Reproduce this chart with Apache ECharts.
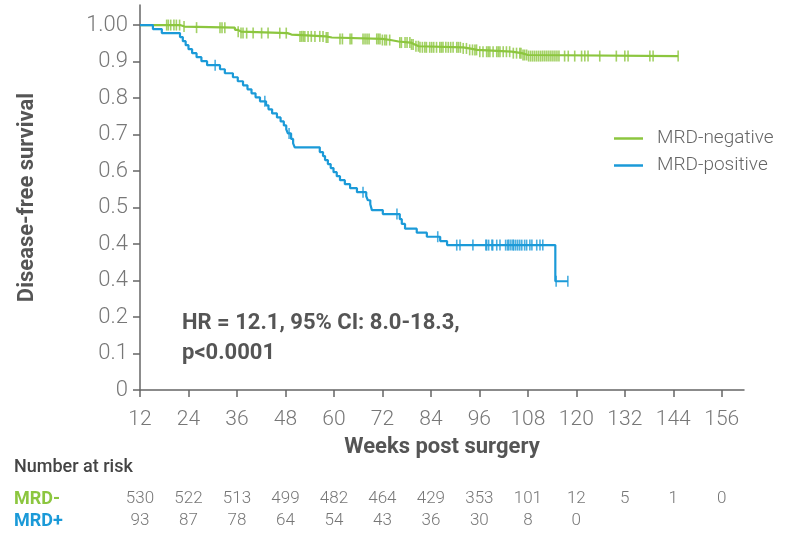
<!DOCTYPE html>
<html>
<head>
<meta charset="utf-8">
<script src="https://cdn.jsdelivr.net/npm/echarts@6/dist/echarts.min.js"></script>
<style>
  html, body { margin: 0; padding: 0; background: #fff; }
  #kmChart { width: 792px; height: 537px; }
</style>
</head>
<body>
<div id="kmChart"></div>
<script>
// x ticks (weeks) and y tick labels as printed
var weekTicks = [12, 24, 36, 48, 60, 72, 84, 96, 108, 120, 132, 144, 156];
var survTicks = [0, 0.1, 0.2, 0.3, 0.4, 0.5, 0.6, 0.7, 0.8, 0.9, 1.0];
var survTickLabels = ['0', '0.1', '0.2', '0.4', '0.4', '0.5', '0.6', '0.7', '0.8', '0.9', '1.00'];

// KM steps [week, survival after event]
var negSteps = [
  [12, 1.0], [21.9, 0.996], [23, 0.993], [35.5, 0.987], [36.2, 0.982], [37, 0.978],
  [48.5, 0.974], [49.5, 0.969], [58, 0.966], [59.5, 0.962], [72, 0.959], [74, 0.955],
  [76, 0.952], [79, 0.947], [80, 0.942], [81, 0.939], [92, 0.936], [93.5, 0.932],
  [95.5, 0.927], [104, 0.923], [106.5, 0.918], [108, 0.915], [145.2, 0.915]
];
var posSteps = [
  [12, 1.0], [15.2, 0.989], [17.4, 0.978], [21.9, 0.967], [22.6, 0.956], [23.3, 0.945],
  [24.0, 0.934], [24.9, 0.923], [26.0, 0.912], [27.2, 0.901], [28.6, 0.890],
  [31.8, 0.879], [33.0, 0.868], [35.0, 0.857], [36.2, 0.846], [37.5, 0.835],
  [38.6, 0.824], [39.6, 0.813], [40.6, 0.802], [41.7, 0.791], [43.2, 0.780],
  [43.8, 0.769], [44.7, 0.758], [45.9, 0.747], [46.8, 0.736], [47.6, 0.725],
  [48.2, 0.714], [48.6, 0.703], [49.4, 0.688], [49.9, 0.676], [50.3, 0.665],
  [56.5, 0.652], [57.3, 0.641], [57.8, 0.630], [58.5, 0.619], [59.2, 0.608],
  [59.9, 0.597], [60.7, 0.586], [61.5, 0.575], [62.7, 0.564], [64.0, 0.553],
  [65.7, 0.542], [68.0, 0.531], [68.4, 0.520], [69.0, 0.509], [69.4, 0.493],
  [72.1, 0.482], [76.3, 0.468], [76.8, 0.455], [77.6, 0.442], [80.5, 0.431],
  [83.0, 0.420], [86.3, 0.408], [88.0, 0.397], [114.8, 0.298], [117.9, 0.298]
];

// censoring times (weeks)
var negCensor = [
  18.6, 19.0, 19.6, 20.4, 21.0, 21.8, 22.9, 26.0, 31.8, 32.3, 33.0, 36.3, 37.0, 37.5, 38.4,
  40.0, 42.1, 43.7, 46.6, 48.2, 51.6, 52.0, 52.4, 52.8, 53.6, 54.4, 55.3, 56.5, 57.3, 58.1,
  58.5, 61.5, 62.1, 64.0, 64.4, 67.2, 67.7, 68.2, 68.7, 70.6, 71.0, 71.4, 72.0, 72.6, 73.0,
  73.8, 76.3, 76.7, 77.6, 78.1, 78.8, 79.2, 79.6, 80.3, 80.9, 81.3, 81.9, 82.5, 82.9, 83.7,
  84.2, 84.7, 85.4, 86.2, 86.6, 87.0, 87.7, 88.3, 88.9, 89.5, 90.4, 90.8, 91.3, 92.0, 92.8,
  93.6, 94.3, 94.9, 95.3, 96.1, 96.9, 97.8, 98.2, 98.6, 99.4, 100.3, 100.7, 101.1, 101.9,
  102.7, 103.5, 104.4, 105.2, 106.0, 106.3, 106.8, 107.2, 107.7, 108.2, 108.7, 109.2, 109.7,
  110.2, 110.7, 111.2, 111.7, 112.2, 112.7, 113.2, 113.7, 114.2, 114.7, 115.2, 115.7, 117.1,
  118.0, 119.6, 121.3, 122.1, 122.9, 125.8, 129.9, 132.0, 132.8, 138.2, 139.0, 145.2
];
var posCensor = [
  30.6, 42.9, 48.9, 67.2, 75.6, 85.7, 90.4, 91.2, 94.4, 97.6, 97.8, 98.3, 99.1, 99.3, 100.3,
  101.1, 102.5, 103.0, 103.3, 103.8, 104.3, 104.5, 105.0, 105.5, 106.0, 106.5, 107.2, 107.7,
  108.5, 109.0, 110.2, 111.0, 111.7, 115.0, 117.9
];

// number at risk
var riskNeg = [530, 522, 513, 499, 482, 464, 429, 353, 101, 12, 5, 1, 0];
var riskPos = [93, 87, 78, 64, 54, 43, 36, 30, 8, 0];

var cGreen = '#8cc63f';
var cBlue = '#1b9ad8';
var fontFam = 'Roboto, "Liberation Sans", sans-serif';

function survAt(steps, t) {
  var s = steps[0][1];
  for (var i = 0; i < steps.length; i++) {
    if (steps[i][0] <= t) s = steps[i][1];
  }
  return s;
}
function censorPts(steps, times) {
  return times.map(function (t) { return [t, survAt(steps, t)]; });
}

var kmChart = echarts.init(document.getElementById('kmChart'));
var option = {
  animation: false,
  backgroundColor: '#fff',
  grid: { left: 140, right: 48, top: 5, bottom: 147 },
  legend: {
    data: ['MRD-negative', 'MRD-positive'],
    orient: 'vertical',
    left: 609,
    top: 124,
    icon: 'rect',
    itemWidth: 29,
    itemHeight: 2.5,
    itemGap: 8,
    textStyle: { color: '#666', fontSize: 19, fontFamily: fontFam, fontWeight: 300, padding: [0, 0, 0, 9] }
  },
  xAxis: {
    type: 'value',
    min: 12,
    max: 161.5,
    name: 'Weeks post surgery',
    nameLocation: 'middle',
    nameGap: 46,
    nameTextStyle: { color: '#555', fontSize: 22, fontWeight: 'bold', fontFamily: fontFam },
    splitLine: { show: false },
    axisLine: { lineStyle: { color: '#666', width: 1.5 } },
    axisTick: { customValues: weekTicks, length: 7, lineStyle: { color: '#666', width: 1.5 } },
    axisLabel: {
      customValues: weekTicks, margin: 19,
      color: '#777', fontSize: 21, fontFamily: fontFam, fontWeight: 300
    }
  },
  yAxis: {
    type: 'value',
    min: 0,
    max: 1.055,
    name: 'Disease-free survival',
    nameLocation: 'middle',
    nameRotate: 90,
    nameGap: 102,
    nameTextStyle: { color: '#555', fontSize: 22, fontWeight: 'bold', fontFamily: fontFam },
    splitLine: { show: false },
    axisLine: { show: true, lineStyle: { color: '#666', width: 1.5 } },
    axisTick: { show: true, customValues: survTicks, length: 7, lineStyle: { color: '#666', width: 1.5 } },
    axisLabel: {
      customValues: survTicks, margin: 12,
      color: '#777', fontSize: 22, fontFamily: fontFam, fontWeight: 300,
      formatter: function (v) {
        var i = Math.round(v * 10);
        return survTickLabels[i];
      }
    }
  },
  series: [
    {
      name: 'MRD-negative', type: 'line', step: 'end', showSymbol: false,
      color: cGreen, lineStyle: { width: 2.2, color: cGreen }, data: negSteps, z: 2
    },
    {
      name: 'negCensor', type: 'scatter', symbol: 'rect', symbolSize: [1.6, 11],
      itemStyle: { color: cGreen }, data: censorPts(negSteps, negCensor), z: 2
    },
    {
      name: 'MRD-positive', type: 'line', step: 'end', showSymbol: false,
      color: cBlue, lineStyle: { width: 2.2, color: cBlue }, data: posSteps, z: 3
    },
    {
      name: 'posCensor', type: 'scatter', symbol: 'rect', symbolSize: [1.6, 11],
      itemStyle: { color: cBlue }, data: censorPts(posSteps, posCensor), z: 3
    }
  ]
};
kmChart.setOption(option);

// annotation + number-at-risk table, placed from the axis scale
var g = [
  { type: 'text', x: 182, y: 323, style: { text: 'HR = 12.1, 95% CI: 8.0-18.3,', fill: '#555', font: 'bold 22px ' + fontFam, verticalAlign: 'middle' } },
  { type: 'text', x: 182, y: 353, style: { text: 'p<0.0001', fill: '#555', font: 'bold 22px ' + fontFam, verticalAlign: 'middle' } },
  { type: 'text', x: 14, y: 467, style: { text: 'Number at risk', fill: '#444', font: '500 18px ' + fontFam, verticalAlign: 'middle' } },
  { type: 'text', x: 14, y: 499, style: { text: 'MRD-', fill: cGreen, font: 'bold 18px ' + fontFam, verticalAlign: 'middle' } },
  { type: 'text', x: 14, y: 521, style: { text: 'MRD+', fill: cBlue, font: 'bold 18px ' + fontFam, verticalAlign: 'middle' } }
];
weekTicks.forEach(function (w, i) {
  var px = kmChart.convertToPixel({ xAxisIndex: 0 }, w);
  if (i < riskNeg.length) {
    g.push({ type: 'text', x: px, y: 499, style: { text: String(riskNeg[i]), fill: '#777', font: '300 17px ' + fontFam, align: 'center', verticalAlign: 'middle' } });
  }
  if (i < riskPos.length) {
    g.push({ type: 'text', x: px, y: 521, style: { text: String(riskPos[i]), fill: '#777', font: '300 17px ' + fontFam, align: 'center', verticalAlign: 'middle' } });
  }
});
kmChart.setOption({ graphic: g });
</script>
</body>
</html>
